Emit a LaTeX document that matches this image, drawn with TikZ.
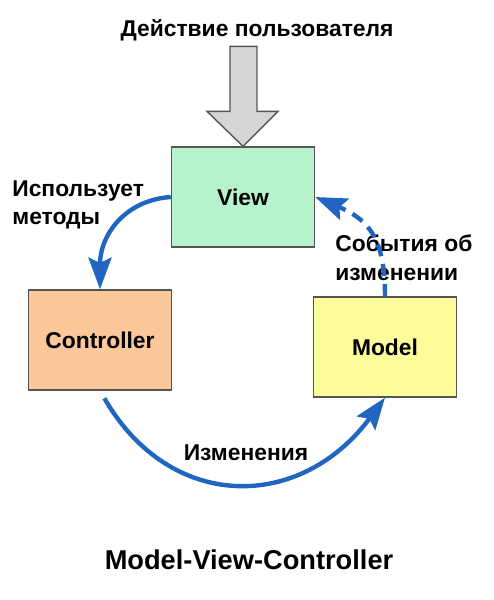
\documentclass[tikz,border=0pt]{standalone}
\usepackage{fontspec}
\setmainfont{Liberation Sans}
\usepackage{tikz}
\usetikzlibrary{arrows.meta, positioning}
\definecolor{viewgreen}{RGB}{182,242,204}
\definecolor{ctrlorange}{RGB}{250,200,155}
\definecolor{modelyellow}{RGB}{252,252,155}
\definecolor{boxborder}{RGB}{85,85,85}
\definecolor{flowblue}{RGB}{32,102,192}
\definecolor{actiongray}{RGB}{214,214,214}

\begin{document}
\begin{tikzpicture}[
    x=0.02cm, y=0.02cm,
    part/.style={rectangle, draw=boxborder, line width=0.8pt,
                 minimum width=2.86cm, minimum height=2.0cm, inner sep=0pt,
                 align=center, font=\fontsize{13}{15}\selectfont\bfseries},
    lbl/.style={align=left, inner sep=0pt,
                font=\fontsize{13}{16.4}\selectfont\bfseries},
    flow/.style={-{Stealth[length=18pt, width=13pt, inset=3pt]},
                 line width=2.5pt, draw=flowblue},
    bigarr/.style={draw=boxborder, line width=0.8pt, fill=actiongray}
  ]
  \useasboundingbox (0,0) rectangle (494,-600);

  \node[part, fill=viewgreen] (view) at (243,-197) {View};
  \node[part, fill=ctrlorange] (ctrl) at (100,-340) {Controller};
  \node[part, fill=modelyellow] (model) at (385,-347) {Model};

  \node[lbl] (action) at (257,-30) {Действие пользователя};
  \node[lbl, anchor=west] (uses) at (12,-205) {Использует\\методы};
  \node[lbl, anchor=west] (events) at (335,-258) {События об\\изменении};
  \node[lbl] (changes) at (246,-453) {Изменения};
  \node[lbl, font=\fontsize{15.5}{18}\selectfont\bfseries] (title) at (249,-560)
    {Model-View-Controller};

  \draw[bigarr] (view.north) -- ++(-36,35) -- ++(23,0) -- ++(0,65)
    -- ++(27,0) -- ++(0,-65) -- ++(21,0) -- cycle;

  \draw[flow] (view.west) .. controls (125,-200) and (100,-235) .. (ctrl.north);
  \draw[flow, shorten <=5pt] (ctrl.south) .. controls (170,-512) and (300,-512)
    .. (model.south);
  \draw[flow, dash pattern=on 7pt off 4.5pt] (model.north)
    .. controls (385,-240) and (370,-220) .. (view.east);

\end{tikzpicture}
\end{document}
